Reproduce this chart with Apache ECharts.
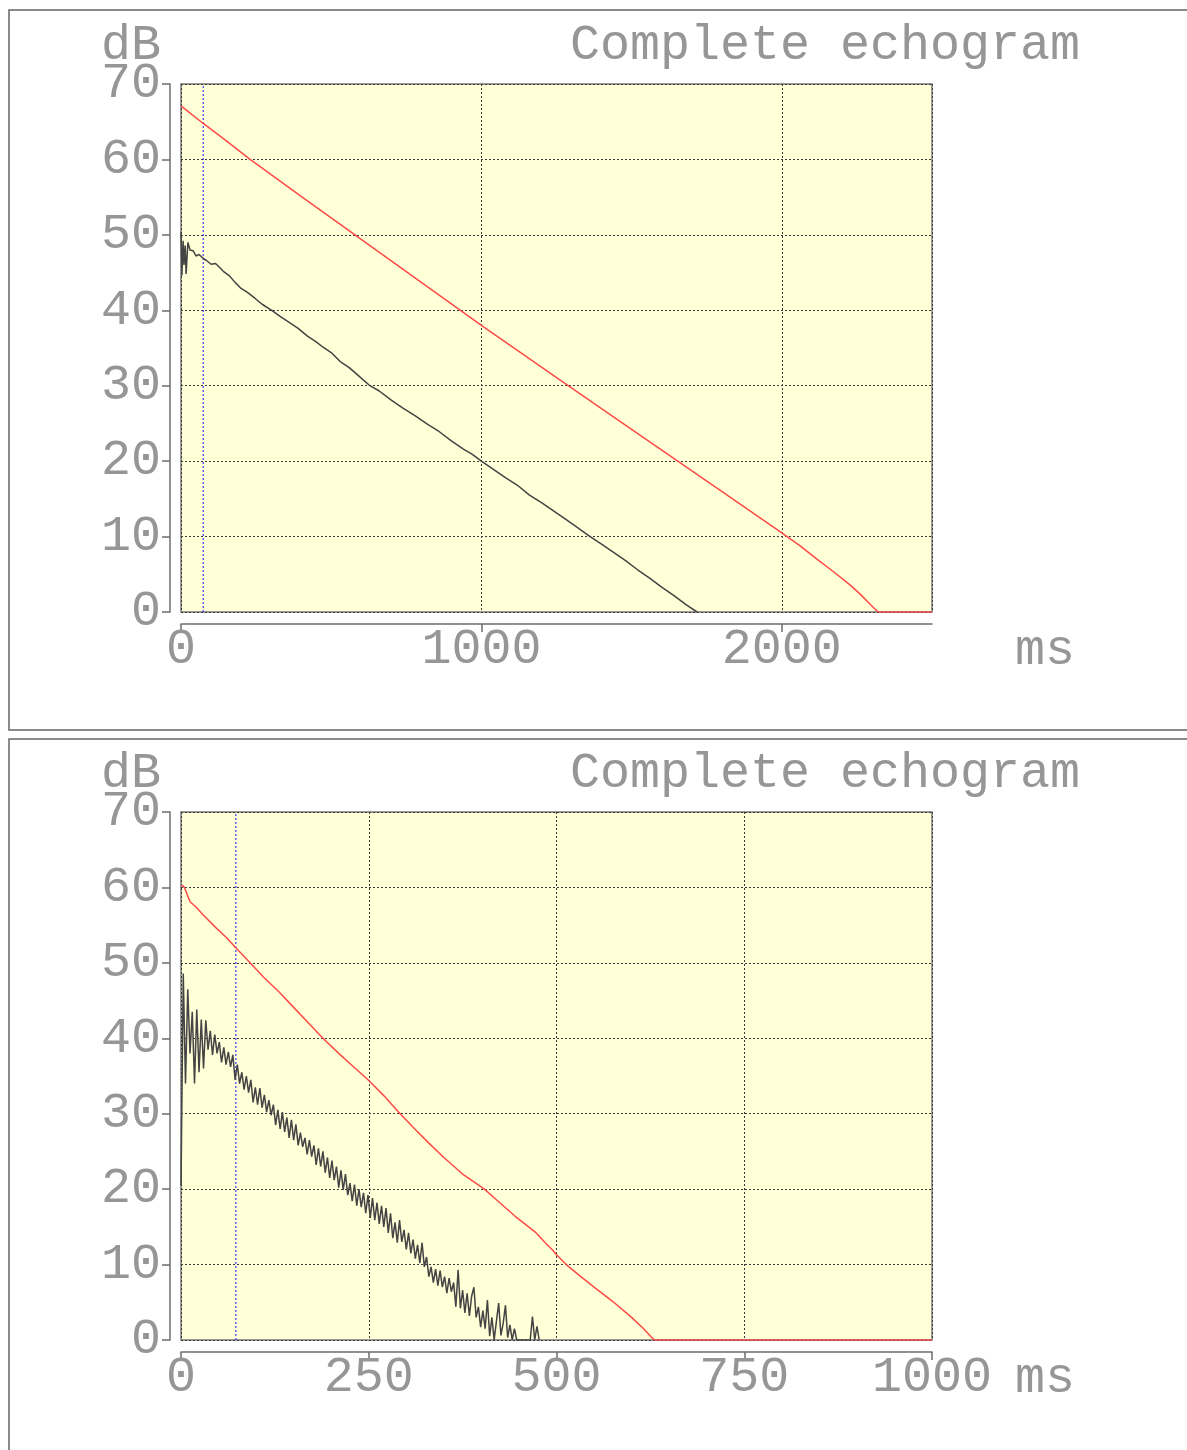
<!DOCTYPE html>
<html>
<head>
<meta charset="utf-8">
<script src="https://cdn.jsdelivr.net/npm/echarts@6/dist/echarts.min.js"></script>
<style>
html,body{margin:0;padding:0;background:#fff;}
#c{width:1187px;height:1450px;}
</style>
</head>
<body>
<div id="c"></div>
<script>
// ---------- DATA ----------
const titleText = 'Complete echogram';
const yUnit = 'dB';
const xUnit = 'ms';
const topMarkerMs = 74; // blue dotted marker (top chart)
const botMarkerMs = 73; // blue dotted marker (bottom chart)

// Top chart (0..2500 ms)
const topXMax = 2500, topXStep = 1000;
const topEnergy = [[0,50.4],[3,44.6],[7,49.2],[10,46],[14,48.6],[17,44.8],[23,49],[30,48],[40,47.9],[50,47.2],[60,47.4],[73,46.9],[85,46.6],[100,46.1],[115,46.2],[123,45.9],[140,45.2],[160,44.6],[180,43.7],[200,42.9],[220,42.4],[246,41.6],[270,40.8],[302,40],[330,39.2],[360,38.4],[390,37.6],[420,36.6],[450,35.8],[473,35.1],[500,34.4],[530,33.2],[560,32.4],[600,31],[629,30],[660,29.3],[700,28.1],[740,27],[780,26],[820,24.9],[860,23.9],[900,22.7],[940,21.6],[970,20.9],[1000,20],[1040,18.9],[1080,17.8],[1120,16.8],[1160,15.5],[1200,14.5],[1240,13.4],[1280,12.3],[1320,11.2],[1362,10],[1400,9],[1440,7.9],[1480,6.8],[1520,5.6],[1560,4.5],[1600,3.3],[1640,2.2],[1680,1.0],[1718,0]];
const topIntegrated = [[0,67.1],[73,64.8],[150,62.5],[230,60],[400,55.1],[600,49.4],[800,43.7],[1000,38],[1278,30.3],[1500,24.2],[1661,19.8],[1800,16],[2000,10.5],[2060,8.8],[2117,7.0],[2170,5.4],[2227,3.6],[2260,2.4],[2290,1.2],[2320,0],[2500,0]];

// Bottom chart (0..1000 ms)
const botXMax = 1000, botXStep = 250;
const botSampleMs = 3; // sampling interval of the echogram trace
const botEnergy = [20.5,48.6,34,46.5,38,43.5,34,43.8,35.5,42.5,36,42.4,38.5,41,37.8,40.5,38,39.5,36.8,38.8,36.5,38.2,36.2,37.8,34.5,36.5,34,35.5,33.2,35,32.8,34.5,31.5,33.5,31.2,33.4,30.8,32.5,30.2,31.8,29.8,31.2,28.5,30.5,28,30.2,27.6,29.5,26.8,29.2,26.5,28.6,25.8,27.5,25.6,26.8,24.6,26.5,24.3,25.8,23.2,25.4,23,25,22.2,24.2,21.5,23.8,21.2,23,20.2,22.5,19.9,22,19.2,20.8,18.4,20.6,17.8,20,17.6,19.5,16.8,19.2,16.2,18.8,15.9,18.2,15.4,17.8,15,17.5,14.2,16.8,13.5,15.6,12.9,15.9,13,14.6,12,14.2,11.5,13.3,10.8,12.6,10.2,12.9,9.7,11,8.4,9.7,7.6,9.4,7.2,9.2,7,8.4,6.2,8.2,6.4,7.6,4.4,9.3,4.2,6.6,3.6,6.2,3.2,5.8,7,3,4.4,1.7,3.9,1.5,5.3,0.5,3,0,2.5,4.9,0.6,2.2,4.6,0.3,2,0,1.5,0,0,0,0,0,0,0,3.1,0,1.8,0];
const botIntegrated = [[0,60.3],[3,60.2],[5,59.9],[12,58.1],[20,57.4],[30,56.3],[45,54.8],[60,53.4],[73,52],[92,50],[110,48.1],[130,46.2],[150,44.1],[170,42],[189,40],[210,38.0],[230,36.2],[249,34.5],[270,32.4],[289,30.3],[310,28.1],[330,26.1],[350,24.2],[375,22],[404,20],[420,18.6],[445,16.4],[473,14.2],[485,12.9],[495,11.9],[500,11.3],[513,10],[530,8.6],[550,7],[575,5.1],[600,3],[615,1.6],[630,0],[1000,0]];

const yMin = 0, yMax = 70, yStep = 10;

// ---------- CHART ----------
const FONT = '"Liberation Mono", "DejaVu Sans Mono", monospace';
const FS = 50;
const TXT = '#969696';
const AXC = '#6e6e6e';

const botEnergyPairs = botEnergy.map((v, i) => [i * botSampleMs, v]);

function gridDef(top) {
  return {left: 181, top: top, width: 751, height: 528, show: true,
    backgroundColor: '#ffffd8', borderColor: '#7a7a7a', borderWidth: 1.5};
}
function xAxisDef(idx, max, step) {
  return {type: 'value', gridIndex: idx, min: 0, max: max, interval: step,
    offset: 12,
    axisLine: {show: true, onZero: false, lineStyle: {color: AXC, width: 1.5}},
    axisTick: {show: true, length: 8, inside: false, lineStyle: {color: AXC, width: 1.5}},
    axisLabel: {show: true, margin: 1, fontFamily: FONT, fontSize: FS, color: TXT,
      showMaxLabel: max % step === 0, formatter: v => (v % step === 0 ? String(v) : '')},
    splitLine: {show: true, lineStyle: {color: '#3a3a3a', type: [2, 2], width: 1}}};
}
function yAxisDef(idx) {
  return {type: 'value', gridIndex: idx, min: yMin, max: yMax, interval: yStep,
    offset: 11,
    axisLine: {show: true, onZero: false, lineStyle: {color: AXC, width: 1.5}},
    axisTick: {show: true, length: 8, inside: false, lineStyle: {color: AXC, width: 1.5}},
    axisLabel: {show: true, margin: 9, fontFamily: FONT, fontSize: FS, color: TXT},
    splitLine: {show: true, lineStyle: {color: '#3a3a3a', type: [2, 2], width: 1}}};
}
function markerSeries(idx, ms) {
  return {type: 'line', xAxisIndex: idx, yAxisIndex: idx,
    data: [[ms, yMin], [ms, yMax]], showSymbol: false, symbol: 'none', z: 2,
    silent: true, animation: false,
    lineStyle: {color: '#3c3cff', type: [2, 2], width: 1.2}};
}
function lineSeries(idx, data, color, z) {
  return {type: 'line', xAxisIndex: idx, yAxisIndex: idx, data: data,
    showSymbol: false, symbol: 'none', z: z,
    lineStyle: {color: color, width: 1.5}, animation: false, clip: true};
}
function txt(x, y, text) {
  return {type: 'text', style: {x: x, y: y, text: text,
    font: FS + 'px ' + FONT, fill: TXT, textAlign: 'left', textVerticalAlign: 'middle'}, z: 10};
}

const off = 728;
const option = {
  animation: false,
  backgroundColor: '#ffffff',
  grid: [gridDef(84), gridDef(84 + off)],
  xAxis: [xAxisDef(0, topXMax, topXStep), xAxisDef(1, botXMax, botXStep)],
  yAxis: [yAxisDef(0), yAxisDef(1)],
  series: [
    markerSeries(0, topMarkerMs),
    lineSeries(0, topIntegrated, '#ff4a4a', 3),
    lineSeries(0, topEnergy, '#444444', 4),
    markerSeries(1, botMarkerMs),
    lineSeries(1, botIntegrated, '#ff4a4a', 3),
    lineSeries(1, botEnergyPairs, '#444444', 4)
  ],
  graphic: [
    {type: 'rect', shape: {x: 9, y: 10, width: 1200, height: 720}, style: {fill: 'none', stroke: '#666', lineWidth: 1.5}, z: 0, silent: true},
    {type: 'rect', shape: {x: 9, y: 739, width: 1200, height: 760}, style: {fill: 'none', stroke: '#666', lineWidth: 1.5}, z: 0, silent: true},
    txt(101, 46, yUnit), txt(570, 46, titleText), txt(1015, 651, xUnit),
    txt(101, 46 + off, yUnit), txt(570, 46 + off, titleText), txt(1015, 651 + off, xUnit)
  ]
};
const chart = echarts.init(document.getElementById('c'), null, {renderer: 'canvas'});
chart.setOption(option);
</script>
</body>
</html>
